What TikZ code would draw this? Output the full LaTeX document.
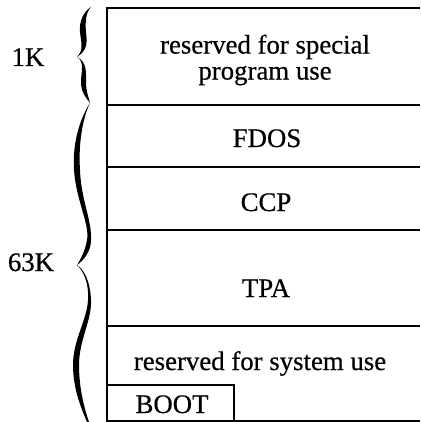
\documentclass[tikz,border=0pt]{standalone}
\usepackage{fontspec}
\setmainfont[UprightFeatures={FakeBold=0.5}]{Liberation Serif}
\usepackage{tikz}

\begin{document}
\begin{tikzpicture}[x=1pt,y=-1pt,line width=1.6pt,
   every node/.style={font=\fontsize{26.8}{26}\selectfont,inner sep=0pt,anchor=base}]
   \useasboundingbox (0,0) rectangle (420,422);

   \draw (420,8) -- (107,8) -- (107,421) -- (420,421);
   \draw (107,105) -- (420,105);
   \draw (107,167) -- (420,167);
   \draw (107,230) -- (420,230);
   \draw (107,326) -- (420,326);
   \draw (107,385) -| (234,421);

   \node[anchor=center,align=center] (special) at (265,60) {reserved for special\\program use};
   \node (fdos) at (267,147) {FDOS};
   \node (ccp) at (266,211) {CCP};
   \node (tpa) at (266,297) {TPA};
   \node (system) at (260,370) {reserved for system use};
   \node (boot) at (172,413) {BOOT};

   \node (onek) at (28,66) {1K};
   \node (sixtythreek) at (31,271) {63K};

   \fill (91,7) .. controls (83,12) and (79,22) .. (80,32) .. controls (81,42) and (84,50) .. (77,57)
      .. controls (88,50) and (87,42) .. (86,32) .. controls (85,22) and (86,12) .. (91,7) -- cycle;
   \fill (77,57) .. controls (85,62) and (81,72) .. (81,82) .. controls (81,92) and (86,98) .. (90,103)
      .. controls (89,98) and (86,92) .. (86,82) .. controls (86,72) and (87,62) .. (77,57) -- cycle;
   \fill (90,103) .. controls (82,115) and (72,140) .. (74,170) .. controls (76,200) and (90,225) .. (87,240)
      .. controls (85,252) and (80,260) .. (77,265)
      .. controls (83,261) and (91,252) .. (91,240) .. controls (92,220) and (81,200) .. (80,170)
      .. controls (78,140) and (84,115) .. (90,103) -- cycle;
   \fill (77,265) .. controls (82,270) and (89,280) .. (88,300) .. controls (87,320) and (73,340) .. (73,365)
      .. controls (73,390) and (82,410) .. (87,422) -- (89,422) .. controls (85,410) and (79,390) .. (79,365)
      .. controls (79,340) and (92,320) .. (91,300) .. controls (90,280) and (84,270) .. (77,265) -- cycle;
\end{tikzpicture}
\end{document}
